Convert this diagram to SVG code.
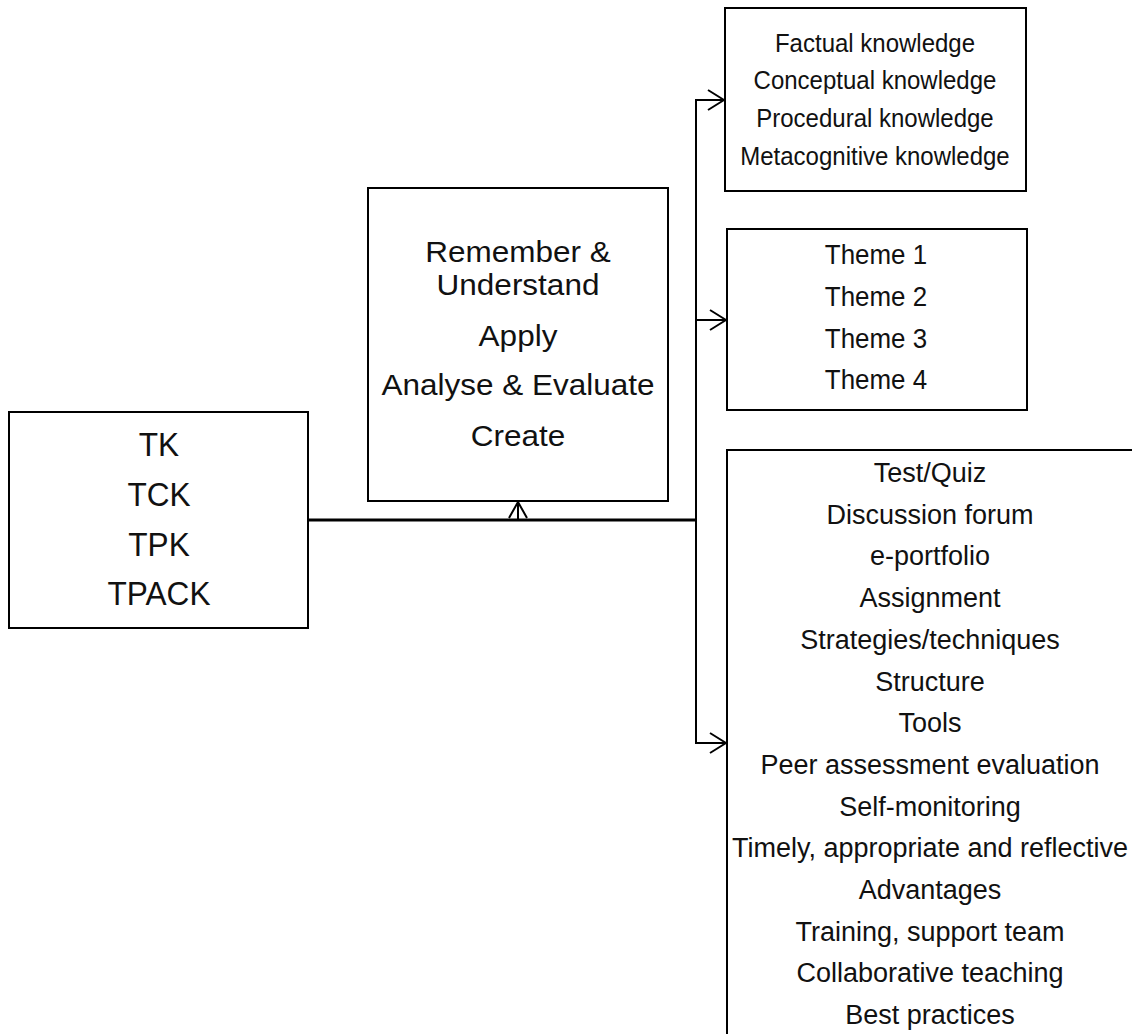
<svg xmlns="http://www.w3.org/2000/svg" width="1132" height="1034" viewBox="0 0 1132 1034">
  <style>
    .box { fill: #ffffff; stroke: #000000; stroke-width: 2; }
    .lbl { font-family: "Liberation Sans", Arial, sans-serif; fill: #111111; text-anchor: middle; }
    .wire { fill: none; stroke: #000000; stroke-width: 2; }
    .main { fill: none; stroke: #000000; stroke-width: 3; }
  </style>
  <defs>
    <marker id="open-arrow" viewBox="0 0 18 22" refX="17" refY="11" markerWidth="18" markerHeight="22" markerUnits="userSpaceOnUse" orient="auto">
      <path d="M1,1 L17,11 L1,21" fill="none" stroke="#000000" stroke-width="2"/>
    </marker>
    <marker id="up-arrow" viewBox="0 0 18 20" refX="17" refY="10" markerWidth="18" markerHeight="20" markerUnits="userSpaceOnUse" orient="auto">
      <path d="M1,1 L17,10 L1,19" fill="none" stroke="#000000" stroke-width="2"/>
    </marker>
  </defs>
  <rect width="1132" height="1034" fill="#ffffff"/>

  <!-- connectors -->
  <g id="connectors">
    <line class="main" x1="308" y1="520" x2="697" y2="520"/>
    <line class="wire" x1="518" y1="520" x2="518" y2="502" marker-end="url(#up-arrow)"/>
    <line class="wire" x1="696" y1="99" x2="696" y2="744"/>
    <line class="wire" x1="695" y1="100" x2="724" y2="100" marker-end="url(#open-arrow)"/>
    <line class="wire" x1="695" y1="320" x2="726" y2="320" marker-end="url(#open-arrow)"/>
    <line class="wire" x1="695" y1="743" x2="726" y2="743" marker-end="url(#open-arrow)"/>
  </g>

  <!-- technology knowledge -->
  <g id="node-tk">
    <rect class="box" x="9" y="412" width="299" height="216"/>
    <g class="lbl" font-size="34">
      <text transform="matrix(0.93 0 0 1 159 0)" y="456">TK</text>
      <text transform="matrix(0.93 0 0 1 159 0)" y="506">TCK</text>
      <text transform="matrix(0.93 0 0 1 159 0)" y="556">TPK</text>
      <text transform="matrix(0.93 0 0 1 159 0)" y="605">TPACK</text>
    </g>
  </g>

  <!-- cognitive levels -->
  <g id="node-levels">
    <rect class="box" x="368" y="188" width="300" height="313"/>
    <g class="lbl" font-size="30">
      <text transform="matrix(1.05 0 0 1 518 0)" y="262">Remember &amp;</text>
      <text transform="matrix(1.05 0 0 1 518 0)" y="295">Understand</text>
      <text transform="matrix(1.05 0 0 1 518 0)" y="346">Apply</text>
      <text transform="matrix(1.05 0 0 1 518 0)" y="395">Analyse &amp; Evaluate</text>
      <text transform="matrix(1.05 0 0 1 518 0)" y="446">Create</text>
    </g>
  </g>

  <!-- knowledge types -->
  <g id="node-knowledge">
    <rect class="box" x="725" y="8" width="301" height="183"/>
    <g class="lbl" font-size="25">
      <text transform="matrix(0.96 0 0 1 875 0)" y="52">Factual knowledge</text>
      <text transform="matrix(0.96 0 0 1 875 0)" y="89">Conceptual knowledge</text>
      <text transform="matrix(0.96 0 0 1 875 0)" y="127">Procedural knowledge</text>
      <text transform="matrix(0.96 0 0 1 875 0)" y="165">Metacognitive knowledge</text>
    </g>
  </g>

  <!-- themes -->
  <g id="node-themes">
    <rect class="box" x="727" y="229" width="300" height="181"/>
    <g class="lbl" font-size="27">
      <text transform="matrix(0.96 0 0 1 876 0)" y="264">Theme 1</text>
      <text transform="matrix(0.96 0 0 1 876 0)" y="306">Theme 2</text>
      <text transform="matrix(0.96 0 0 1 876 0)" y="348">Theme 3</text>
      <text transform="matrix(0.96 0 0 1 876 0)" y="389">Theme 4</text>
    </g>
  </g>

  <!-- practices -->
  <g id="node-practices">
    <rect class="box" x="727" y="450" width="410" height="600"/>
    <g class="lbl" font-size="27">
      <text x="930" y="482">Test/Quiz</text>
      <text x="930" y="524">Discussion forum</text>
      <text x="930" y="565">e-portfolio</text>
      <text x="930" y="607">Assignment</text>
      <text x="930" y="649">Strategies/techniques</text>
      <text x="930" y="691">Structure</text>
      <text x="930" y="732">Tools</text>
      <text x="930" y="774">Peer assessment evaluation</text>
      <text x="930" y="816">Self-monitoring</text>
      <text x="930" y="857">Timely, appropriate and reflective</text>
      <text x="930" y="899">Advantages</text>
      <text x="930" y="941">Training, support team</text>
      <text x="930" y="982">Collaborative teaching</text>
      <text x="930" y="1024">Best practices</text>
    </g>
  </g>
</svg>
